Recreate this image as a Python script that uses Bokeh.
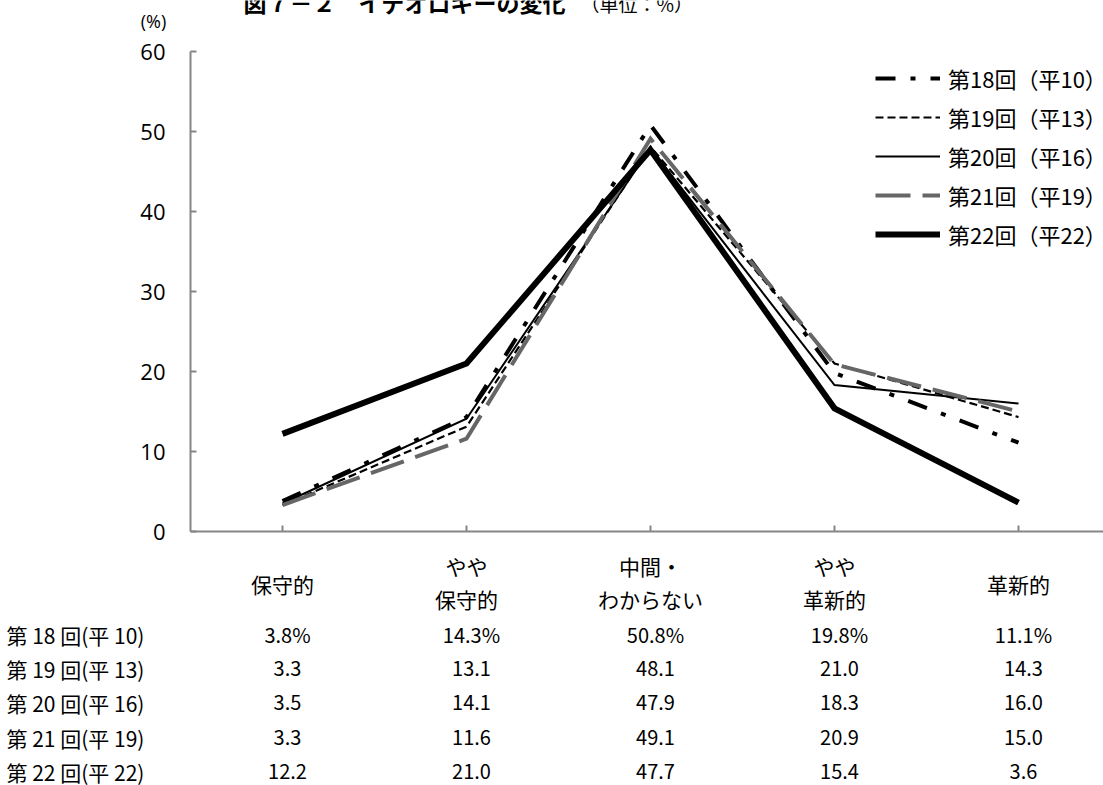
from bokeh.plotting import figure
from bokeh.models import Range1d, FixedTicker, Legend, LegendItem, Label
from bokeh.embed import file_html
from bokeh.resources import INLINE

# ---------------- data ----------------
categories = ["保守的", "やや\n保守的", "中間・\nわからない", "やや\n革新的", "革新的"]
series_names = ["第18回（平10）", "第19回（平13）", "第20回（平16）", "第21回（平19）", "第22回（平22）"]
row_labels = ["第 18 回(平 10)", "第 19 回(平 13)", "第 20 回(平 16)", "第 21 回(平 19)", "第 22 回(平 22)"]
s18 = [3.8, 14.3, 50.8, 19.8, 11.1]
s19 = [3.3, 13.1, 48.1, 21.0, 14.3]
s20 = [3.5, 14.1, 47.9, 18.3, 16.0]
s21 = [3.3, 11.6, 49.1, 20.9, 15.0]
s22 = [12.2, 21.0, 47.7, 15.4, 3.6]
y_ticks = [0, 10, 20, 30, 40, 50, 60]
title_main = "図７－２　イデオロギーの変化"
title_unit = "（単位：%）"
y_unit = "(%)"

series = [s18, s19, s20, s21, s22]
styles = [
    dict(line_color="#000000", line_width=4, line_dash="20 15 5 15"),
    dict(line_color="#000000", line_width=2.2, line_dash="8 4"),
    dict(line_color="#000000", line_width=2, line_dash="solid"),
    dict(line_color="#666666", line_width=4, line_dash="35 12"),
    dict(line_color="#000000", line_width=6, line_dash="solid"),
]

W, H = 1103, 785
AX_X, AX_Y0, PX_UNIT = 190, 531, 8.0   # y-axis position, y=0 position, px per %
PX_CAT = 184.0                          # px per category

# The frame covers the whole canvas so that the table texts are not clipped;
# axes are pinned with fixed_location / bounds.
x0 = -0.5 - AX_X / PX_CAT
x1 = -0.5 + (W - AX_X) / PX_CAT
y0 = -(H - AX_Y0) / PX_UNIT
y1 = AX_Y0 / PX_UNIT

CJK = "Noto Sans CJK JP"

p = figure(width=W, height=H, x_range=Range1d(x0, x1), y_range=Range1d(y0, y1),
           output_backend="svg", toolbar_location=None,
           min_border=0, min_border_left=0, min_border_right=0,
           min_border_top=0, min_border_bottom=0)
p.outline_line_color = None
p.xgrid.visible = False
p.ygrid.visible = False
p.background_fill_color = "white"
p.border_fill_color = "white"

for ax in (p.xaxis, p.yaxis):
    ax.axis_line_color = "#868686"
    ax.axis_line_width = 2
    ax.major_tick_line_color = "#868686"
    ax.major_tick_line_width = 2
    ax.major_tick_in = 6
    ax.major_tick_out = 0
    ax.minor_tick_line_color = None

p.xaxis.fixed_location = 0
p.xaxis.bounds = (-0.5, x1)
p.xaxis.ticker = FixedTicker(ticks=list(range(len(categories))))
p.xaxis.major_label_overrides = {i: " " for i in range(len(categories))}

p.yaxis.fixed_location = -0.5
p.yaxis.bounds = (0, 60)
p.yaxis.ticker = FixedTicker(ticks=y_ticks)
p.yaxis.major_label_text_font = "Open Sans"
p.yaxis.major_label_text_font_size = "22px"
p.yaxis.major_label_text_color = "#000000"
p.yaxis.major_label_standoff = 25

xs = list(range(len(categories)))
items = []
for name, vals, st in zip(series_names, series, styles):
    r = p.line(xs, vals, line_join="miter", **st)
    items.append(LegendItem(label=name, renderers=[r]))

legend = Legend(items=items, location=(875, H - 250), glyph_width=65, glyph_height=20,
                label_height=20, spacing=7, padding=0, margin=0,
                border_line_color=None, background_fill_alpha=0, label_standoff=8,
                label_text_font=CJK, label_text_font_size="22px",
                label_text_color="#000000", label_text_baseline="middle")
p.add_layout(legend)

def add_text(x, py, text, size, align="left", baseline="middle", font=CJK,
             style="normal", x_units="screen", x_offset=0):
    p.add_layout(Label(x=x, y=H - py, x_units=x_units, y_units="screen",
                       x_offset=x_offset, text=text, text_font=font,
                       text_font_size=size, text_font_style=style,
                       text_align=align, text_baseline=baseline,
                       text_color="#000000"))

# title and unit labels (the reference shows them cut at the top edge)
add_text(243, 1, title_main, "23px", baseline="alphabetic", style="bold")
add_text(580, 3, title_unit, "19px", baseline="alphabetic")
add_text(153, 20, y_unit, "18px", align="center", font="Open Sans")

# category header rows
for i, cat in enumerate(categories):
    lines = cat.split("\n")
    ys = [583] if len(lines) == 1 else [565, 598]
    for line, py in zip(lines, ys):
        add_text(i, py, line, "21px", align="center", x_units="data")

# data table rows
row_y = [634, 668, 702, 737, 771]
for r, (lab, vals, py) in enumerate(zip(row_labels, series, row_y)):
    add_text(6, py, lab, "21px")
    for i, v in enumerate(vals):
        txt = f"{v:.1f}%" if r == 0 else f"{v:.1f}"
        add_text(i, py, txt, "20px", align="center", x_units="data", x_offset=5)

open("out.html", "w").write(file_html(p, INLINE))
